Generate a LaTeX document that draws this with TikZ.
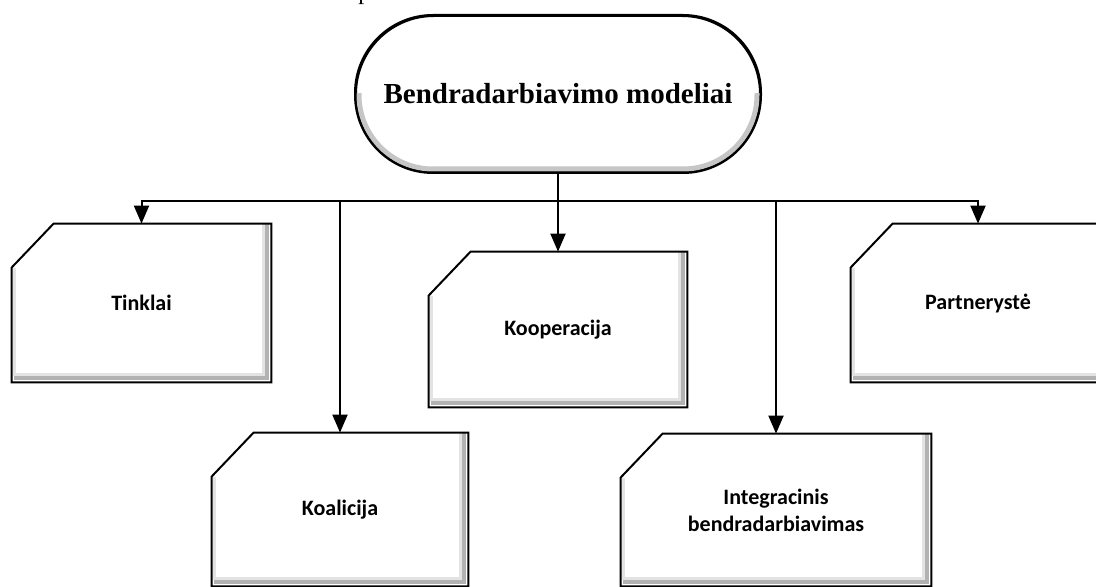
\documentclass[tikz,border=0pt]{standalone}
\usepackage{fontspec}
\setmainfont{Liberation Serif}
\newfontfamily\boxfont{Carlito}
\usetikzlibrary{arrows.meta}
\tikzset{
  conn/.style={line width=1pt},
  arrow/.style={conn,-{Triangle[length=9pt,width=7.5pt]}},
  modelbox/.style n args={2}{minimum width=#1, minimum height=#2, inner sep=0pt, align=center,
    font=\boxfont\fontsize{11}{13.5}\selectfont\bfseries},
  title/.style={draw, line width=1pt, rounded corners=39pt, minimum width=202pt, minimum height=78pt,
    inner sep=0pt, font=\fontsize{14.5}{17}\selectfont\bfseries},
  boxline/.style={line width=1pt, line join=miter},
  bevel dark/.style={gray!60, line width=1.6pt},
  bevel light/.style={gray!22, line width=1.6pt},
}
\begin{document}
\begin{tikzpicture}[x=0.5pt,y=-0.5pt]
      \useasboundingbox (0,0) rectangle (1096,587);
      \node[anchor=base west, inner sep=0pt, font=\fontsize{12}{14}\selectfont] (pfrag) at (358,0) {p};
      \node[title] (model) at (558,94) {Bendradarbiavimo modeliai};
      \node[modelbox={129.5pt}{79pt}] (tinklai) at (141.5,303) {Tinklai};
      \node[modelbox={129pt}{77.5pt}] (kooperacija) at (558,329.5) {Kooperacija};
      \node[modelbox={127pt}{79pt}] (partneryste) at (978,303) {Partnerystė};
      \node[modelbox={128pt}{76.5pt}] (koalicija) at (340,509.5) {Koalicija};
      \node[modelbox={155pt}{76pt}] (integracinis) at (776,510) {Integracinis\\bendradarbiavimas};
      \begin{scope}
        \clip (model.west) rectangle (model.south east);
        \draw[gray!45, line width=2.5pt, rounded corners=37pt]
          ([shift={(2pt,2pt)}]model.south west) rectangle ([shift={(-2pt,-2pt)}]model.north east);
      \end{scope}
      \draw[line width=1pt, rounded corners=39pt] (model.south west) rectangle (model.north east);
      \foreach \n in {tinklai,kooperacija,partneryste,koalicija,integracinis}{
        \draw[bevel light] ([xshift=-3.8pt]\n.north east) -- ([xshift=-3.8pt,yshift=3.8pt]\n.south east)
          -- ([xshift=1pt,yshift=3.8pt]\n.south west);
        \draw[bevel dark] ([xshift=-2.2pt]\n.north east) -- ([xshift=-2.2pt,yshift=2.2pt]\n.south east)
          -- ([xshift=1pt,yshift=2.2pt]\n.south west);
        \draw[bevel light] ([xshift=1.4pt,yshift=-22pt]\n.north west) -- ([xshift=1.4pt,yshift=3pt]\n.south west);
        \draw[boxline] ([xshift=21pt]\n.north west) -- (\n.north east) -- (\n.south east)
          -- (\n.south west) -- ([yshift=-22pt]\n.north west) -- cycle;
      }
      \coordinate (hub) at (558,201);
      \begin{scope}[arrow]
        \draw[conn,-] (model.south) to (hub);
        \draw (hub) -| (tinklai.north);
        \draw (hub) -| (koalicija.north);
        \draw (hub) to (kooperacija.north);
        \draw (hub) -| (integracinis.north);
        \draw (hub) -| (partneryste.north);
      \end{scope}
    \end{tikzpicture}
\end{document}
